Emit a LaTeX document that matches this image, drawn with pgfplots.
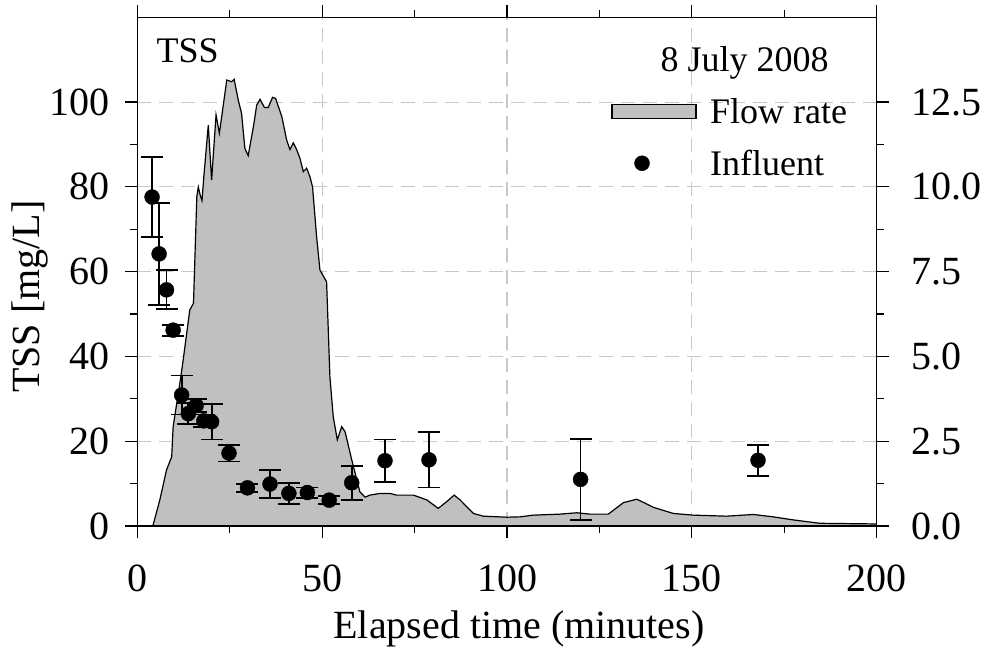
\documentclass[border=0pt]{standalone}
\usepackage{pgfplots}
\pgfplotsset{compat=1.18}
\usepackage{fontspec}
\setmainfont{Liberation Serif}
\definecolor{fillgray}{HTML}{C0C0C0}
\definecolor{gridgray}{HTML}{C8C8C8}
\newcommand{\bigfont}{\fontsize{40}{44}\selectfont}
\newcommand{\midfont}{\fontsize{36}{40}\selectfont}
\pgfplotsset{base/.style={scale only axis, width=739.4pt, height=508.7pt,
  xmin=0, xmax=200, at={(0,0)}, anchor=south west,
  /pgf/number format/assume math mode=true,
  tick label style={font=\bigfont}, label style={font=\bigfont},
  xtick={0,50,...,200}, minor x tick num=1,
  major tick length=12pt, minor tick length=7pt,
  every tick/.style={line width=1.2pt, black},
  axis line style={line width=1.4pt}}}
\begin{document}
\begin{tikzpicture}
\path[use as bounding box] (-137.3pt,-123pt) rectangle (849.7pt,526pt);
% grid
\begin{axis}[base, ymin=0, ymax=120, ytick={0,20,...,100},
  grid=major, major grid style={gridgray, line width=1.1pt, dash pattern=on 14pt off 8pt},
  axis line style={draw=none}, xticklabels={}, yticklabels={}, tick style={draw=none}]
\addplot[draw=none] coordinates {(0,0)};
\end{axis}
% flow rate on right axis
\begin{axis}[base, ymin=0, ymax=15, axis y line*=right, axis x line=none,
  ytick={0,2.5,5,7.5,10,12.5}, minor y tick num=1, tick align=outside,
  yticklabel style={/pgf/number format/fixed, /pgf/number format/fixed zerofill, /pgf/number format/precision=1, xshift=19pt}]
\addplot[fill=fillgray, draw=black, line width=1.2pt] table {
x y
4.2 0
6.1 0.77
7.9 1.65
9.3 2.04
9.7 2.93
11.8 4.42
12.4 4.89
14.2 6.37
15.2 6.57
16.1 9.71
16.5 10.0
17.0 9.76
17.5 9.6
18.0 10.3
19.2 11.82
20.1 10.2
21.3 12.12
22.2 11.58
24.2 13.15
25.5 13.10
26.2 13.17
27.3 12.56
28.2 12.17
29.1 11.13
30.0 10.92
31.4 11.77
32.3 12.41
33.2 12.58
34.4 12.34
35.4 12.34
36.6 12.64
37.4 12.61
39.1 12.07
40.4 11.38
41.3 11.10
42.2 11.30
43.1 11.10
44.0 10.84
44.9 10.45
45.8 10.55
46.7 10.30
47.4 10.0
48.5 8.53
49.4 7.55
51.2 7.20
52.1 4.40
53.0 3.22
54.1 2.54
55.3 2.93
56.2 2.78
58.0 1.95
60.2 1.01
61.6 0.85
62.9 0.91
65.6 0.96
68.3 0.96
70.2 0.91
74.7 0.91
78.3 0.77
81.4 0.52
83.7 0.72
85.7 0.91
87.3 0.77
90.9 0.37
93.6 0.29
99.9 0.26
103.5 0.27
107.1 0.32
114.3 0.35
118.9 0.39
122.4 0.35
127.4 0.35
131.5 0.69
135.1 0.79
137.8 0.65
139.6 0.55
145.0 0.37
150.4 0.32
159.4 0.29
166.6 0.34
172.0 0.27
177.4 0.18
184.7 0.08
200.0 0.06
} \closedcycle;
\end{axis}
% TSS points, left and bottom/top axes
\begin{axis}[base, ymin=0, ymax=120, ytick={0,20,...,100}, minor y tick num=1,
  ytick pos=left, xtick pos=both, tick align=outside,
  xticklabel style={yshift=-23pt}, yticklabel style={xshift=-12pt},
  xlabel={Elapsed time (minutes)}, ylabel={TSS [mg/L]},
  xlabel style={yshift=-12pt, xshift=12pt},
  ylabel style={at={(ticklabel cs:0.451)}, yshift=-5pt},
  legend cell align=left,
  legend style={draw=none, fill=none, font=\midfont, at={(0.641,0.845)}, anchor=north west,
    inner sep=0pt, row sep=21pt}]
\addlegendimage{legend image code/.code={\draw[fill=fillgray, line width=1.1pt] (0pt,-7pt) rectangle (84pt,7pt); \path (96pt,0pt);}}
\addlegendentry{Flow rate}
\addplot[only marks, mark=*, mark size=7.5pt, black,
  error bars/.cd, y dir=both, y explicit,
  error bar style={line width=1.8pt},
  error mark options={rotate=90, mark size=11pt, line width=1.8pt},
  /pgfplots/legend image code/.code={\fill[black] (30pt,0pt) circle (7.5pt); \path (0pt,0pt) (96pt,0pt);}]
  table[x=x, y=y, y error=e] {
x y e
4.0 77.6 9.5
5.9 64.2 12.0
7.9 55.7 4.6
9.7 46.2 1.3
12.0 30.9 4.6
13.8 26.5 2.5
15.9 28.4 1.5
18.0 24.8 1.5
20.1 24.6 4.2
24.8 17.2 2.0
29.8 9.0 1.0
35.9 9.9 3.3
41.0 7.7 2.5
46.0 7.9 1.2
51.9 6.1 1.0
58.0 10.2 4.0
67.0 15.4 5.0
78.9 15.6 6.5
119.9 11.0 9.5
167.9 15.5 3.7
};
\addlegendentry{Influent}
\node[font=\midfont, anchor=base west] at (axis cs:4.3,109.3) {TSS};
\node[font=\midfont, anchor=base] at (axis cs:164.3,107.1) {8 July 2008};
\end{axis}
\end{tikzpicture}
\end{document}
